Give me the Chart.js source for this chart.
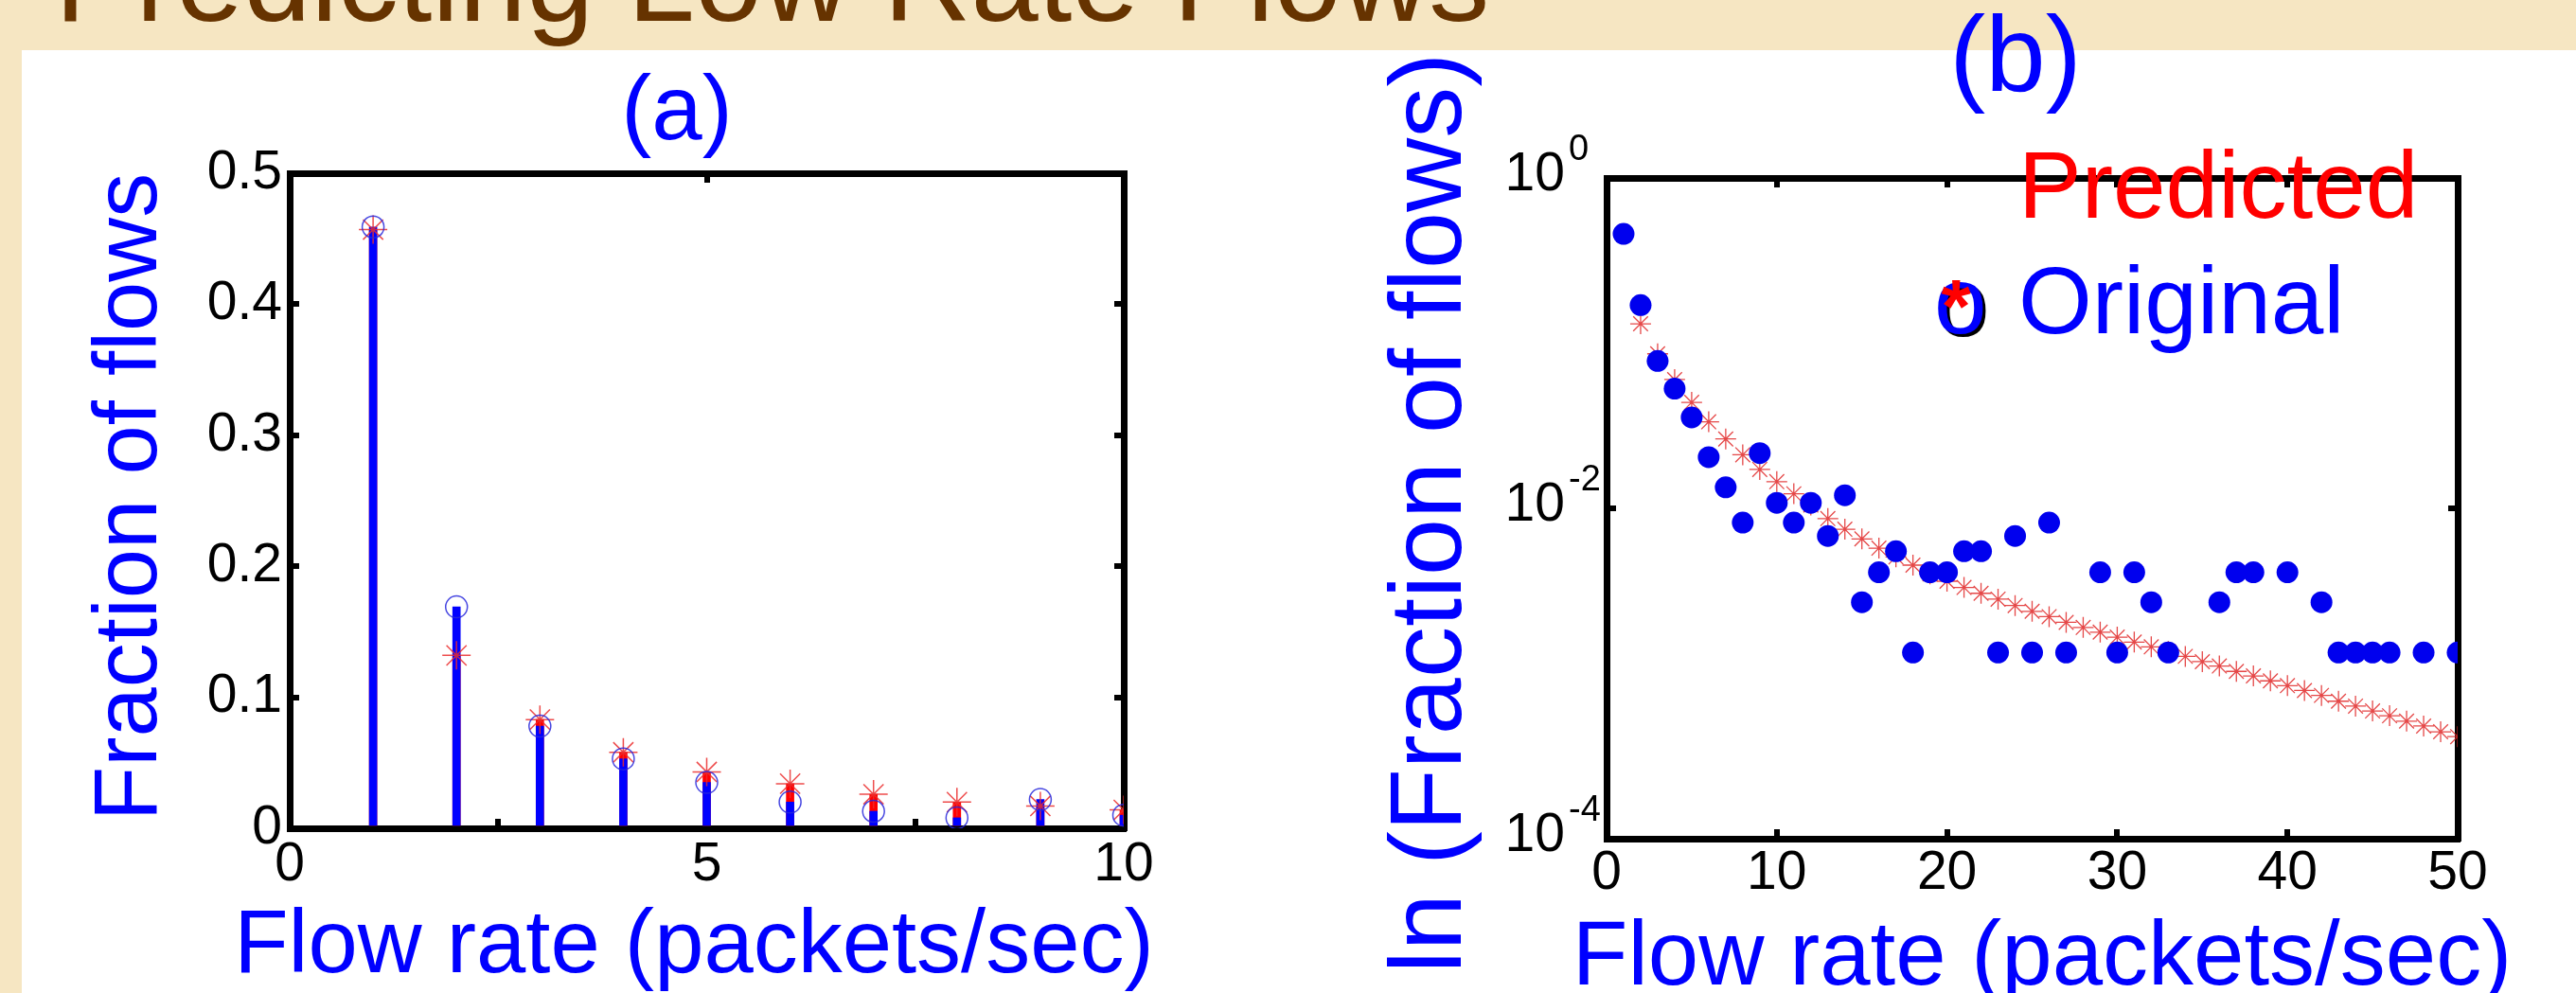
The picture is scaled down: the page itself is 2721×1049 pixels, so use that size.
<!DOCTYPE html>
<html>
<head>
<meta charset="utf-8">
<script src="https://cdn.jsdelivr.net/npm/chart.js@4.4.1/dist/chart.umd.min.js"></script>
<style>
  html, body { margin: 0; padding: 0; }
  body {
    width: 2721px; height: 1049px; overflow: hidden; position: relative;
    background: #f6e6c2;
    font-family: 'Liberation Sans', Arial, sans-serif;
  }
  .sheet { position: absolute; left: 23px; top: 53px; right: 0; bottom: 0; background: #fff; }
  .slide-title {
    position: absolute; left: 58px; top: -86px;
    font-size: 128px; line-height: 1; color: #663300; white-space: nowrap;
  }
  canvas { position: absolute; top: 0; }
  #chartA { left: 0; }
  #chartB { left: 1360px; }
</style>
</head>
<body>
<div class="sheet"></div>
<div class="slide-title">Predicting Low Rate Flows</div>
<canvas id="chartA" width="1360" height="1049"></canvas>
<canvas id="chartB" width="1361" height="1049"></canvas>
<script>
const FONT = "'Liberation Sans', Arial, Helvetica, sans-serif";

// (a) linear view, rates 1..10
const rateA = [1, 2, 3, 4, 5, 6, 7, 8, 9, 10];
const originalA = [0.459, 0.169, 0.078, 0.053, 0.035, 0.020, 0.013, 0.008, 0.022, 0.010];
const predictedA = [0.457, 0.132, 0.083, 0.058, 0.043, 0.034, 0.026, 0.020, 0.017, 0.014];

// (b) log view, rates 1..50 (null = no flows at that rate)
const rateB = [1, 2, 3, 4, 5, 6, 7, 8, 9, 10, 11, 12, 13, 14, 15, 16, 17, 18, 19, 20,
  21, 22, 23, 24, 25, 26, 27, 28, 29, 30, 31, 32, 33, 34, 35, 36, 37, 38, 39, 40,
  41, 42, 43, 44, 45, 46, 47, 48, 49, 50];
const originalB = [0.459, 0.170, 0.078, 0.053, 0.0355, 0.0204, 0.0134, 0.0082, 0.0216, 0.0108,
  0.0082, 0.0108, 0.0068, 0.0120, 0.0027, 0.0041, 0.0055, 0.00134, 0.0041, 0.0041,
  0.0055, 0.0055, 0.00134, 0.0068, 0.00134, 0.0082, 0.00134, null, 0.0041, 0.00134,
  0.0041, 0.0027, 0.00134, null, null, 0.0027, 0.0041, 0.0041, null, 0.0041,
  null, 0.0027, 0.00134, 0.00134, 0.00134, 0.00134, null, 0.00134, null, 0.00134];
const predictedB = [0.457, 0.131, 0.0862, 0.0602, 0.0438, 0.0334, 0.0263, 0.0211, 0.0172, 0.0145,
  0.01225, 0.01048, 0.00867, 0.00747, 0.00653, 0.00574, 0.00508, 0.00453, 0.00401, 0.00362,
  0.00332, 0.00306, 0.00282, 0.00258, 0.00238, 0.00221, 0.00204, 0.00190, 0.00178, 0.00166,
  0.00155, 0.00145, 0.00136, 0.00127, 0.00118, 0.00111, 0.00103, 0.000967, 0.000903, 0.000844,
  0.000789, 0.000737, 0.00068, 0.000635, 0.000593, 0.000555, 0.000515, 0.000481, 0.000444, 0.000415];

const xTicksA = [0, 5, 10];
const yTicksA = [0, 0.1, 0.2, 0.3, 0.4, 0.5];
const xTicksB = [0, 10, 20, 30, 40, 50];
const yTicksB = [1e-4, 1e-2, 1];

const pts = (xs, ys) => xs.map((x, i) => ({ x, y: ys[i] }));

// draws free text (titles, axis names, legend) at fixed spots
const figureText = {
  id: 'figureText',
  afterDraw(chart, args, opts) {
    const ctx = chart.ctx;
    (opts.items || []).forEach(t => {
      ctx.save();
      ctx.font = `${t.bold ? 'bold ' : ''}${t.size}px ${FONT}`;
      ctx.textAlign = t.align || 'center';
      ctx.textBaseline = 'alphabetic';
      ctx.translate(t.x, t.y);
      if (t.rotate) ctx.rotate(t.rotate);
      if (t.shadow) {
        ctx.fillStyle = t.shadow;
        ctx.fillText(t.text, 3, 3);
      }
      ctx.fillStyle = t.color;
      ctx.fillText(t.text, 0, 0);
      ctx.restore();
    });
  }
};

// 10^n labels for the log axis
const powerTicks = {
  id: 'powerTicks',
  afterDraw(chart) {
    const scale = chart.scales.y;
    const ctx = chart.ctx;
    ctx.save();
    ctx.fillStyle = '#000';
    ctx.textBaseline = 'middle';
    scale.ticks.forEach(t => {
      const py = scale.getPixelForValue(t.value);
      const exp = Math.round(Math.log10(t.value));
      ctx.font = `57px ${FONT}`;
      ctx.textAlign = 'right';
      ctx.fillText('10', scale.right - 44, py - 3);
      ctx.font = `38px ${FONT}`;
      ctx.textAlign = 'left';
      ctx.fillText(String(exp), scale.right - 40, py - 29);
    });
    ctx.restore();
  }
};

function frame(position, extra) {
  return Object.assign({
    position,
    border: { display: true, color: '#000', width: 7 },
    grid: { drawOnChartArea: false, drawTicks: true, tickLength: -10, color: '#000', lineWidth: 6 },
  }, extra);
}

function tickFont() {
  return { family: FONT, size: 57 };
}

new Chart(document.getElementById('chartA'), {
  type: 'scatter',
  data: {
    datasets: [
      { type: 'bar', data: pts(rateA, predictedA), backgroundColor: '#ff0000',
        barThickness: 8, grouped: false, order: 4 },
      { type: 'bar', data: pts(rateA, originalA), backgroundColor: '#0000ff',
        barThickness: 8, grouped: false, order: 3 },
      { data: pts(rateA, predictedA), pointStyle: 'star', pointRadius: 15,
        borderColor: 'rgba(235,45,45,0.85)', borderWidth: 1.5, backgroundColor: 'transparent', order: 2 },
      { data: pts(rateA, originalA), pointStyle: 'circle', pointRadius: 11.5,
        borderColor: 'rgba(40,40,220,0.85)', borderWidth: 1.5, backgroundColor: 'transparent', order: 1 },
    ]
  },
  options: {
    responsive: false,
    animation: false,
    layout: { padding: { left: 206, right: 163, top: 173, bottom: 74 } },
    plugins: {
      legend: { display: false },
      tooltip: { enabled: false },
      figureText: {
        items: [
          { text: '(a)', x: 715, y: 147, size: 96, color: '#0000ff' },
          { text: 'Fraction of flows', x: 165, y: 525, size: 94, color: '#0000ff', rotate: -Math.PI / 2 },
          { text: 'Flow rate (packets/sec)', x: 733, y: 1027, size: 94, color: '#0000ff' },
        ]
      }
    },
    scales: {
      x: frame('bottom', {
        type: 'linear', min: 0, max: 10, offset: false,
        afterBuildTicks: s => { s.ticks = xTicksA.map(value => ({ value })); },
        ticks: { font: tickFont(), color: '#000', padding: 15, maxRotation: 0, autoSkip: false },
        afterFit: s => { s.height = 100; }
      }),
      xTop: frame('top', {
        type: 'linear', min: 0, max: 10, offset: false,
        afterBuildTicks: s => { s.ticks = xTicksA.map(value => ({ value })); },
        ticks: { display: false },
        afterFit: s => { s.height = 10; }
      }),
      y: frame('left', {
        type: 'linear', min: 0, max: 0.5,
        afterBuildTicks: s => { s.ticks = yTicksA.map(value => ({ value })); },
        ticks: { font: tickFont(), color: '#000', padding: 18, callback: v => String(+v.toFixed(1)) },
        afterFit: s => { s.width = 100; }
      }),
      yRight: frame('right', {
        type: 'linear', min: 0, max: 0.5,
        afterBuildTicks: s => { s.ticks = yTicksA.map(value => ({ value })); },
        ticks: { display: false },
        afterFit: s => { s.width = 10; }
      }),
    }
  },
  plugins: [figureText]
});

new Chart(document.getElementById('chartB'), {
  type: 'scatter',
  data: {
    datasets: [
      { data: pts(rateB, predictedB), pointStyle: 'star', pointRadius: 11,
        borderColor: 'rgba(225,40,40,0.85)', borderWidth: 1.3, backgroundColor: 'transparent', order: 2 },
      { data: pts(rateB, originalB), pointStyle: 'circle', pointRadius: 11.5,
        borderWidth: 0, backgroundColor: '#0000ee', order: 1 },
    ]
  },
  options: {
    responsive: false,
    animation: false,
    layout: { padding: { left: 237, right: 115, top: 178, bottom: 63 } },
    plugins: {
      legend: { display: false },
      tooltip: { enabled: false },
      figureText: {
        items: [
          { text: '(b)', x: 769, y: 96, size: 114, color: '#0000ff' },
          { text: 'ln (Fraction of flows)', x: 183, y: 542, size: 108, color: '#0000ff', rotate: -Math.PI / 2 },
          { text: 'Flow rate (packets/sec)', x: 797, y: 1040, size: 96, color: '#0000ff' },
          { text: 'Predicted', x: 772, y: 230, size: 100, color: '#ff0000', align: 'left' },
          { text: 'o', x: 683, y: 352, size: 100, color: '#0000ff', align: 'left', shadow: '#000' },
          { text: '*', x: 706, y: 351, size: 80, color: '#ff0000', bold: true },
          { text: 'Original', x: 772, y: 352, size: 100, color: '#0000ff', align: 'left' },
        ]
      }
    },
    scales: {
      x: frame('bottom', {
        type: 'linear', min: 0, max: 50, offset: false,
        afterBuildTicks: s => { s.ticks = xTicksB.map(value => ({ value })); },
        ticks: { font: tickFont(), color: '#000', padding: 13, maxRotation: 0, autoSkip: false },
        afterFit: s => { s.height = 100; }
      }),
      xTop: frame('top', {
        type: 'linear', min: 0, max: 50, offset: false,
        afterBuildTicks: s => { s.ticks = xTicksB.map(value => ({ value })); },
        ticks: { display: false },
        afterFit: s => { s.height = 10; }
      }),
      y: frame('left', {
        type: 'logarithmic', min: 1e-4, max: 1,
        afterBuildTicks: s => { s.ticks = yTicksB.map(value => ({ value })); },
        ticks: { display: false },
        afterFit: s => { s.width = 100; }
      }),
      yRight: frame('right', {
        type: 'logarithmic', min: 1e-4, max: 1,
        afterBuildTicks: s => { s.ticks = yTicksB.map(value => ({ value })); },
        ticks: { display: false },
        afterFit: s => { s.width = 10; }
      }),
    }
  },
  plugins: [figureText, powerTicks]
});
</script>
</body>
</html>
